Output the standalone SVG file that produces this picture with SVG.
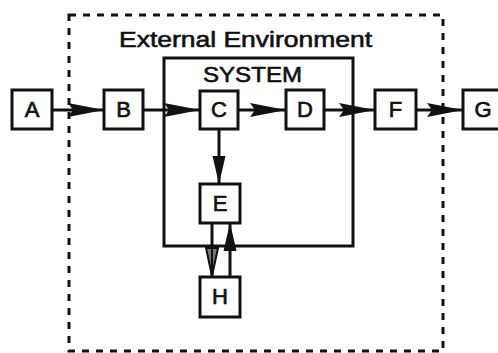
<svg xmlns="http://www.w3.org/2000/svg" width="498" height="353" viewBox="0 0 498 353">
<style>
.box{fill:#fff;stroke:#111;stroke-width:3}
.lbl{font-family:"Liberation Sans",Arial,sans-serif;font-size:22px;fill:#111;stroke:#111;stroke-width:0.7;text-anchor:middle}
.ttl{font-family:"Liberation Sans",Arial,sans-serif;font-size:22px;fill:#111;stroke:#111;stroke-width:0.6}
.env{fill:none;stroke:#111;stroke-width:3;stroke-dasharray:7 7}
.sys{fill:none;stroke:#111;stroke-width:3}
.con{fill:none;stroke:#111;stroke-width:3}
</style>
<defs>
<marker id="hl" markerUnits="userSpaceOnUse" markerWidth="36" markerHeight="16" viewBox="0 0 36 16" refX="36" refY="8" orient="auto">
<path d="M0,1 L36,8 L0,15 L5,8 Z" fill="#111"/>
</marker>
<marker id="hs" markerUnits="userSpaceOnUse" markerWidth="28" markerHeight="14" viewBox="0 0 28 14" refX="28" refY="7" orient="auto">
<path d="M0,0.5 L28,7 L0,13.5 Z" fill="#111"/>
</marker>
<marker id="ho" markerUnits="userSpaceOnUse" markerWidth="30" markerHeight="14" viewBox="0 0 30 14" refX="29" refY="7" orient="auto">
<path d="M1,1 L29,7 L1,13 Z" fill="#777" stroke="#111" stroke-width="2"/>
<path d="M1,7 L29,7" stroke="#111" stroke-width="2"/>
</marker>
</defs>
<g id="environment">
<rect class="env" x="69" y="15" width="374" height="336"/>
<text class="ttl" x="119" y="47" textLength="253" lengthAdjust="spacingAndGlyphs">External Environment</text>
</g>
<g id="system">
<rect class="sys" x="164" y="58" width="189" height="188"/>
<text class="ttl" x="203" y="82" font-size="21" textLength="99" lengthAdjust="spacingAndGlyphs">SYSTEM</text>
</g>
<g id="connectors">
<line class="con" x1="52" y1="110" x2="104" y2="110" marker-end="url(#hl)"/>
<line class="con" x1="143" y1="110" x2="200" y2="110" marker-end="url(#hl)"/>
<line class="con" x1="238" y1="110" x2="286" y2="110" marker-end="url(#hl)"/>
<line class="con" x1="324" y1="110" x2="375" y2="110" marker-end="url(#hl)"/>
<line class="con" x1="416" y1="110" x2="463" y2="110" marker-end="url(#hl)"/>
<line class="con" x1="219" y1="129" x2="219" y2="184" marker-end="url(#hs)"/>
<line class="con" x1="212" y1="223" x2="212" y2="276" marker-end="url(#ho)"/>
<line class="con" x1="230" y1="277" x2="230" y2="223" marker-end="url(#hs)"/>
</g>
<g id="A"><rect class="box" x="12" y="90" width="40" height="39"/><text class="lbl" x="32" y="117">A</text></g>
<g id="B"><rect class="box" x="104" y="90" width="39" height="39"/><text class="lbl" x="123.5" y="117">B</text></g>
<g id="C"><rect class="box" x="200" y="91" width="38" height="38"/><text class="lbl" x="219" y="117">C</text></g>
<g id="D"><rect class="box" x="286" y="90" width="38" height="39"/><text class="lbl" x="305" y="117">D</text></g>
<g id="F"><rect class="box" x="375" y="90" width="41" height="39"/><text class="lbl" x="395.5" y="117">F</text></g>
<g id="G"><rect class="box" x="463" y="90" width="40" height="39"/><text class="lbl" x="483" y="117">G</text></g>
<g id="E"><rect class="box" x="200" y="184" width="40" height="39"/><text class="lbl" x="220" y="211">E</text></g>
<g id="H"><rect class="box" x="200" y="277" width="40" height="40"/><text class="lbl" x="220" y="304">H</text></g>
</svg>
